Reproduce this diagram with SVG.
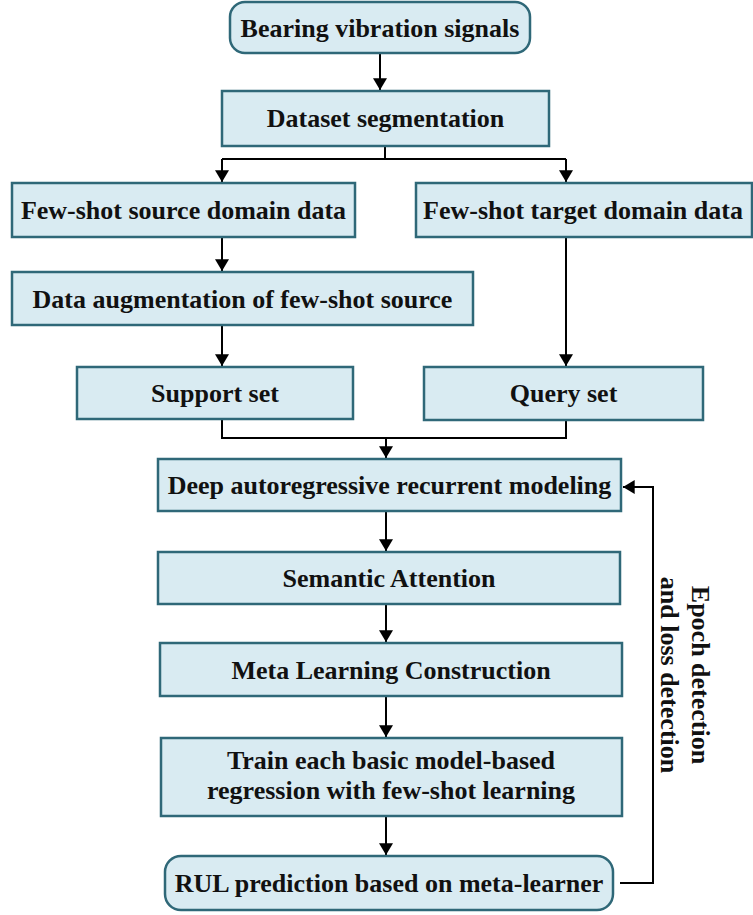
<svg xmlns="http://www.w3.org/2000/svg" width="753" height="915" viewBox="0 0 753 915">
<style>
.box{fill:#d9ebf2;stroke:#2f6878;stroke-width:2.5}
.t{font-family:"Liberation Serif","Times New Roman",serif;font-weight:bold;font-size:26px;fill:#111;text-anchor:middle}
.c{fill:none;stroke:#000;stroke-width:2}
</style>
<defs>
<marker id="ah" viewBox="0 0 10 12" refX="10" refY="6" markerWidth="6" markerHeight="7" markerUnits="strokeWidth" orient="auto">
<path d="M0,0 L10,6 L0,12 Z" fill="#000"/>
</marker>
</defs>
<rect width="753" height="915" fill="#fff"/>
<g id="connectors">
<path class="c" d="M380,53 V90" marker-end="url(#ah)"/>
<path class="c" d="M385,146 V159 M222,159 H566"/>
<path class="c" d="M222,159 V182" marker-end="url(#ah)"/>
<path class="c" d="M566,159 V182" marker-end="url(#ah)"/>
<path class="c" d="M222,237 V271" marker-end="url(#ah)"/>
<path class="c" d="M222,325 V366" marker-end="url(#ah)"/>
<path class="c" d="M566,237 V366" marker-end="url(#ah)"/>
<path class="c" d="M222,419 V438 H566 V420"/>
<path class="c" d="M386,438 V458" marker-end="url(#ah)"/>
<path class="c" d="M386,511 V551" marker-end="url(#ah)"/>
<path class="c" d="M386,604 V642" marker-end="url(#ah)"/>
<path class="c" d="M386,696 V737" marker-end="url(#ah)"/>
<path class="c" d="M386,816 V855" marker-end="url(#ah)"/>
<path class="c" d="M620,883 H653 V487 H623" marker-end="url(#ah)"/>
<text class="t" transform="translate(700,675) rotate(90)" dy="8">Epoch detection</text>
<text class="t" transform="translate(669,675) rotate(90)" dy="8">and loss detection</text>
</g>
<g id="n1"><rect class="box" x="230" y="2" width="300" height="51" rx="15"/><text class="t" x="380" y="37">Bearing vibration signals</text></g>
<g id="n2"><rect class="box" x="222" y="91" width="327" height="55"/><text class="t" x="385.5" y="127">Dataset segmentation</text></g>
<g id="n3"><rect class="box" x="12" y="183" width="343" height="54"/><text class="t" x="183.5" y="219">Few-shot source domain data</text></g>
<g id="n4"><rect class="box" x="416" y="183" width="336" height="54"/><text class="t" x="583" y="219">Few-shot target domain data</text></g>
<g id="n5"><rect class="box" x="12" y="272" width="461" height="53"/><text class="t" x="242.5" y="307.5">Data augmentation of few-shot source</text></g>
<g id="n6"><rect class="box" x="77" y="367" width="276" height="52"/><text class="t" x="215" y="402">Support set</text></g>
<g id="n7"><rect class="box" x="424" y="367" width="279" height="53"/><text class="t" x="563.5" y="402">Query set</text></g>
<g id="n8"><rect class="box" x="158" y="459" width="463" height="52"/><text class="t" x="389.5" y="494">Deep autoregressive recurrent modeling</text></g>
<g id="n9"><rect class="box" x="158" y="552" width="462" height="52"/><text class="t" x="389" y="587">Semantic Attention</text></g>
<g id="n10"><rect class="box" x="160" y="643" width="462" height="53"/><text class="t" x="391" y="678.5">Meta Learning Construction</text></g>
<g id="n11"><rect class="box" x="161" y="738" width="461" height="78"/><text class="t" x="391" y="769">Train each basic model-based</text><text class="t" x="391" y="799">regression with few-shot learning</text></g>
<g id="n12"><rect class="box" x="165" y="856" width="448" height="54" rx="16"/><text class="t" x="389" y="891.5">RUL prediction based on meta-learner</text></g>
</svg>
